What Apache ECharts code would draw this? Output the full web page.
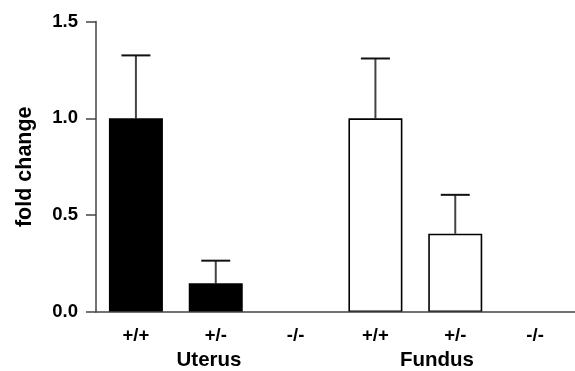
<!DOCTYPE html>
<html>
<head>
<meta charset="utf-8">
<script src="https://cdn.jsdelivr.net/npm/echarts@6/dist/echarts.min.js"></script>
<style>
html,body{margin:0;padding:0;background:#fff;}
#c{width:575px;height:371px;}
</style>
</head>
<body>
<div id="c"></div>
<script>
var categories = ['+/+', '+/-', '-/-', '+/+ ', '+/- ', '-/- '];
var tickLabels = ['+/+', '+/-', '-/-', '+/+', '+/-', '-/-'];
var uterusValues = [1.0, 0.148, 0, '-', '-', '-'];
var fundusValues = ['-', '-', '-', 1.0, 0.404, 0];
var errorTops = [1.325, 0.265, null, 1.309, 0.605, null];
var barValues = [1.0, 0.148, 0, 1.0, 0.404, 0];
var groupNames = ['Uterus', 'Fundus'];
var yTicks = [0, 0.5, 1.0, 1.5];

var font = '"Liberation Sans", Arial, Helvetica, sans-serif';
var chart = echarts.init(document.getElementById('c'), null, {renderer: 'canvas'});

var errData = [];
for (var i = 0; i < categories.length; i++) {
  if (errorTops[i] !== null) errData.push([i, barValues[i], errorTops[i]]);
}
function toItems(arr) {
  return arr.map(function (v) {
    if (v === 0) return {value: 0, itemStyle: {borderWidth: 0}};
    return v;
  });
}

chart.setOption({
  animation: false,
  backgroundColor: '#fff',
  grid: {left: 96, top: 21.5, width: 486, bottom: 59, containLabel: false},
  xAxis: {
    type: 'category',
    data: categories,
    boundaryGap: true,
    z: 5,
    axisLine: {lineStyle: {color: '#444', width: 1.5}},
    axisTick: {show: false},
    axisLabel: {
      interval: 0,
      margin: 14,
      fontSize: 18.5,
      fontWeight: 'bold',
      color: '#000',
      fontFamily: font,
      formatter: function (v, idx) { return tickLabels[idx]; }
    },
    splitLine: {show: false}
  },
  yAxis: {
    type: 'value',
    min: yTicks[0],
    max: yTicks[yTicks.length - 1],
    interval: 0.5,
    name: 'fold change',
    nameLocation: 'middle',
    nameGap: 60,
    nameTextStyle: {fontSize: 21.5, fontWeight: 'bold', color: '#000', fontFamily: font},
    axisLine: {show: true, lineStyle: {color: '#444', width: 1.5}},
    axisTick: {show: true, length: 10, lineStyle: {color: '#444', width: 1.5}},
    axisLabel: {
      margin: 18,
      fontSize: 18.5,
      fontWeight: 'bold',
      color: '#000',
      fontFamily: font,
      formatter: function (v) { return v.toFixed(1); }
    },
    splitLine: {show: false}
  },
  series: [
    {
      name: 'Uterus',
      type: 'bar',
      data: toItems(uterusValues),
      barWidth: 54,
      barGap: '-100%',
      itemStyle: {color: '#000', borderColor: '#000', borderWidth: 0}
    },
    {
      name: 'Fundus',
      type: 'bar',
      data: toItems(fundusValues),
      barWidth: 54,
      barGap: '-100%',
      itemStyle: {color: '#fff', borderColor: '#000', borderWidth: 1.6}
    },
    {
      name: 'error',
      type: 'custom',
      data: errData,
      z: 1,
      renderItem: function (params, api) {
        var x = api.value(0);
        var base = api.coord([x, api.value(1)]);
        var top = api.coord([x, api.value(2)]);
        var half = 14.5;
        return {
          type: 'group',
          children: [
            {type: 'line', shape: {x1: base[0], y1: base[1], x2: top[0], y2: top[1]},
             style: {stroke: '#444', lineWidth: 2}},
            {type: 'line', shape: {x1: top[0] - half, y1: top[1], x2: top[0] + half, y2: top[1]},
             style: {stroke: '#111', lineWidth: 2}}
          ]
        };
      }
    }
  ],
  graphic: [
    {type: 'text', x: 209, y: 360, style: {text: groupNames[0], font: 'bold 20.5px ' + font, fill: '#000', textAlign: 'center', textVerticalAlign: 'middle'}},
    {type: 'text', x: 437, y: 360, style: {text: groupNames[1], font: 'bold 20.5px ' + font, fill: '#000', textAlign: 'center', textVerticalAlign: 'middle'}}
  ]
});
</script>
</body>
</html>
